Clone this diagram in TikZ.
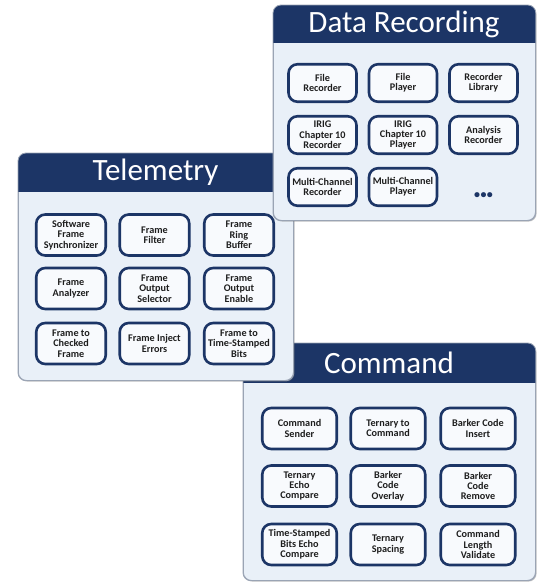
\documentclass[tikz,border=0pt]{standalone}
\usepackage{fontspec}
\setmainfont{Carlito}
\usetikzlibrary{shadows}
\definecolor{navy}{HTML}{1C3566}
\definecolor{bodyfill}{HTML}{E9F0F8}
\definecolor{boxfill}{HTML}{F8FAFD}
\definecolor{pborder}{HTML}{9AA4B4}
\definecolor{txt}{HTML}{1E1E1E}
\tikzset{
  panel/.style={rectangle, rounded corners=8pt, fill=bodyfill, draw=pborder, line width=0.8pt, anchor=north west, inner sep=0pt,
    drop shadow={shadow xshift=1.2pt, shadow yshift=-1.2pt, opacity=0.35, fill=black!60}},
  hdrtext/.style={text=white, font=\fontsize{31}{31}\selectfont, inner sep=0pt},
  box/.style={rectangle, rounded corners=9pt, draw=navy, line width=2.6pt, fill=boxfill, align=center, inner sep=1pt,
    text=txt, font=\fontsize{10.2}{10.4}\selectfont\bfseries,
    drop shadow={shadow xshift=0.8pt, shadow yshift=-0.8pt, opacity=0.25, fill=black!60}},
  drbox/.style={box, minimum width=68pt, minimum height=37.5pt},
  tmbox/.style={box, minimum width=69.5pt, minimum height=41pt},
  cmbox/.style={box, minimum width=74.5pt, minimum height=41pt},
}
\newcommand{\mkheader}[2]{%
  \begin{scope}
    \clip[rounded corners=8pt] (#1.north west) rectangle (#1.south east);
    \fill[navy] (#1.north west) rectangle (#1.east |- 0,#2);
  \end{scope}
  \draw[pborder, line width=0.8pt, rounded corners=8pt] (#1.north west) rectangle (#1.south east);
}
\begin{document}
\begin{tikzpicture}[x=1pt,y=-1pt]
\useasboundingbox (0,0) rectangle (540,582);
\fill[white] (0,0) rectangle (540,582);

% ---------------- Command ----------------
\node[panel, minimum width=292pt, minimum height=237pt] (cmp) at (243,343) {};
\mkheader{cmp}{383}
\node[hdrtext] (cmt) at (389,363) {Command};
\node[cmbox] (c11) at (299.5,428.5) {Command\\Sender};
\node[cmbox] (c12) at (388,428.5) {Ternary to\\Command};
\node[cmbox] (c13) at (478,428.5) {Barker Code\\Insert};
\node[cmbox] (c21) at (299.5,486) {Ternary\\Echo\\Compare};
\node[cmbox] (c22) at (388,486) {Barker\\Code\\Overlay};
\node[cmbox] (c23) at (478,486) {Barker\\Code\\Remove};
\node[cmbox] (c31) at (299.5,544.5) {Time-Stamped\\Bits Echo\\Compare};
\node[cmbox] (c32) at (388,544.5) {Ternary\\Spacing};
\node[cmbox] (c33) at (478,544.5) {Command\\Length\\Validate};

% ---------------- Telemetry ----------------
\node[panel, minimum width=275pt, minimum height=227pt] (tmp) at (18,153) {};
\mkheader{tmp}{192}
\node[hdrtext] (tmt) at (155.5,172.5) {Telemetry};
\node[tmbox] (t11) at (71,235) {Software\\Frame\\Synchronizer};
\node[tmbox] (t12) at (154.5,235) {Frame\\Filter};
\node[tmbox] (t13) at (239,235) {Frame\\Ring\\Buffer};
\node[tmbox] (t21) at (71,288.5) {Frame\\Analyzer};
\node[tmbox] (t22) at (154.5,288.5) {Frame\\Output\\Selector};
\node[tmbox] (t23) at (239,288.5) {Frame\\Output\\Enable};
\node[tmbox] (t31) at (71,343.5) {Frame to\\Checked\\Frame};
\node[tmbox] (t32) at (154.5,343.5) {Frame Inject\\Errors};
\node[tmbox] (t33) at (239,343.5) {Frame to\\Time-Stamped\\Bits};

% ---------------- Data Recording ----------------
\node[panel, minimum width=262pt, minimum height=215pt] (drp) at (273,5) {};
\mkheader{drp}{43}
\node[hdrtext] (drt) at (404,24) {Data Recording};
\node[drbox] (d11) at (322.5,83) {File\\Recorder};
\node[drbox] (d12) at (403,83) {File\\Player};
\node[drbox] (d13) at (483.5,83) {Recorder\\Library};
\node[drbox] (d21) at (322.5,135) {IRIG\\Chapter 10\\Recorder};
\node[drbox] (d22) at (403,135) {IRIG\\Chapter 10\\Player};
\node[drbox] (d23) at (483.5,135) {Analysis\\Recorder};
\node[drbox] (d31) at (322.5,187) {Multi-Channel\\Recorder};
\node[drbox] (d32) at (403,187) {Multi-Channel\\Player};
\node[text=navy, font=\fontsize{12}{12}\selectfont\bfseries, inner sep=0pt] (ddots) at (483.5,196) {•\hspace{0.5pt}•\hspace{0.5pt}•};
\end{tikzpicture}
\end{document}
